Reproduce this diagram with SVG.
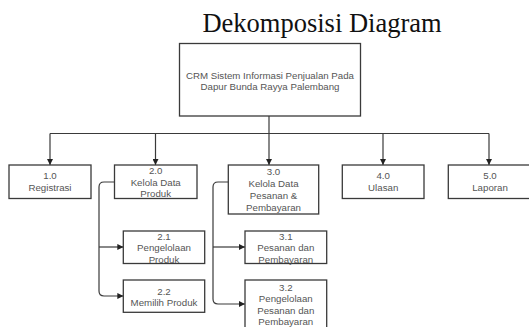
<svg xmlns="http://www.w3.org/2000/svg" width="529" height="327" viewBox="0 0 529 327">
<style>
.box{fill:#fff;stroke:#3a3a3a;stroke-width:1.3}
.t{font-family:"Liberation Sans",Arial,sans-serif;font-size:9.7px;fill:#555;text-anchor:middle}
.c{fill:none;stroke:#3a3a3a;stroke-width:1.2}
.title{font-family:"Liberation Serif","Times New Roman",serif;font-size:26.5px;fill:#111;text-anchor:middle}
</style>
<defs>
<marker id="ah" viewBox="0 0 10 10" refX="10" refY="5" markerWidth="6" markerHeight="6" markerUnits="userSpaceOnUse" orient="auto">
<path d="M0,0 L10,5 L0,10 Z" fill="#222"/>
</marker>
</defs>
<rect width="529" height="327" fill="#fff"/>
<text class="title" x="322" y="32">Dekomposisi Diagram</text>
<g id="connectors">
<path class="c" d="M269,116 V133.5"/>
<path class="c" d="M50,133.5 H489"/>
<path class="c" d="M50,133.5 V165" marker-end="url(#ah)"/>
<path class="c" d="M155.5,133.5 V165" marker-end="url(#ah)"/>
<path class="c" d="M269,133.5 V165" marker-end="url(#ah)"/>
<path class="c" d="M383,133.5 V165" marker-end="url(#ah)"/>
<path class="c" d="M489,133.5 V165" marker-end="url(#ah)"/>
<path class="c" d="M114.5,182 H104 Q99,182 99,187 V291 Q99,296 104,296 H123.3" marker-end="url(#ah)"/>
<path class="c" d="M99,247 H123.3" marker-end="url(#ah)"/>
<path class="c" d="M228.3,182 H218 Q213,182 213,187 V299 Q213,304 218,304 H245" marker-end="url(#ah)"/>
<path class="c" d="M213,247 H245" marker-end="url(#ah)"/>
</g>
<g id="node-root">
<rect class="box" x="179.5" y="43.5" width="181" height="72.5"/>
<text class="t" x="270" y="78.5">CRM Sistem Informasi Penjualan Pada</text>
<text class="t" x="270" y="89.5">Dapur Bunda Rayya Palembang</text>
</g>
<g id="node-1">
<rect class="box" x="9" y="165" width="82" height="33.5"/>
<text class="t" x="50" y="179">1.0</text>
<text class="t" x="50" y="191">Registrasi</text>
</g>
<g id="node-2">
<rect class="box" x="114.5" y="165" width="82.5" height="33.5"/>
<text class="t" x="155.7" y="174">2.0</text>
<text class="t" x="155.7" y="185.6">Kelola Data</text>
<text class="t" x="155.7" y="197.3">Produk</text>
</g>
<g id="node-3">
<rect class="box" x="228.3" y="165" width="90.4" height="49"/>
<text class="t" x="273.5" y="175.3">3.0</text>
<text class="t" x="273.5" y="187.1">Kelola Data</text>
<text class="t" x="273.5" y="199">Pesanan &amp;</text>
<text class="t" x="273.5" y="210.9">Pembayaran</text>
</g>
<g id="node-4">
<rect class="box" x="342.3" y="165" width="81.7" height="33.5"/>
<text class="t" x="383.2" y="179">4.0</text>
<text class="t" x="383.2" y="191">Ulasan</text>
</g>
<g id="node-5">
<rect class="box" x="448.3" y="165" width="82" height="33.5"/>
<text class="t" x="490" y="179">5.0</text>
<text class="t" x="490" y="191">Laporan</text>
</g>
<g id="node-2-1">
<rect class="box" x="123.3" y="231" width="81.4" height="32.5"/>
<text class="t" x="164" y="240">2.1</text>
<text class="t" x="164" y="251.4">Pengelolaan</text>
<text class="t" x="164" y="262.6">Produk</text>
</g>
<g id="node-2-2">
<rect class="box" x="123.3" y="280" width="81.4" height="32.3"/>
<text class="t" x="164" y="295">2.2</text>
<text class="t" x="164" y="305.7">Memilih Produk</text>
</g>
<g id="node-3-1">
<rect class="box" x="245" y="231" width="81.7" height="32.5"/>
<text class="t" x="285.8" y="240">3.1</text>
<text class="t" x="285.8" y="251.4">Pesanan dan</text>
<text class="t" x="285.8" y="262.6">Pembayaran</text>
</g>
<g id="node-3-2">
<rect class="box" x="245" y="280" width="81.7" height="50"/>
<text class="t" x="285.8" y="290.6">3.2</text>
<text class="t" x="285.8" y="302.3">Pengelolaan</text>
<text class="t" x="285.8" y="313.7">Pesanan dan</text>
<text class="t" x="285.8" y="324.8">Pembayaran</text>
</g>
</svg>
